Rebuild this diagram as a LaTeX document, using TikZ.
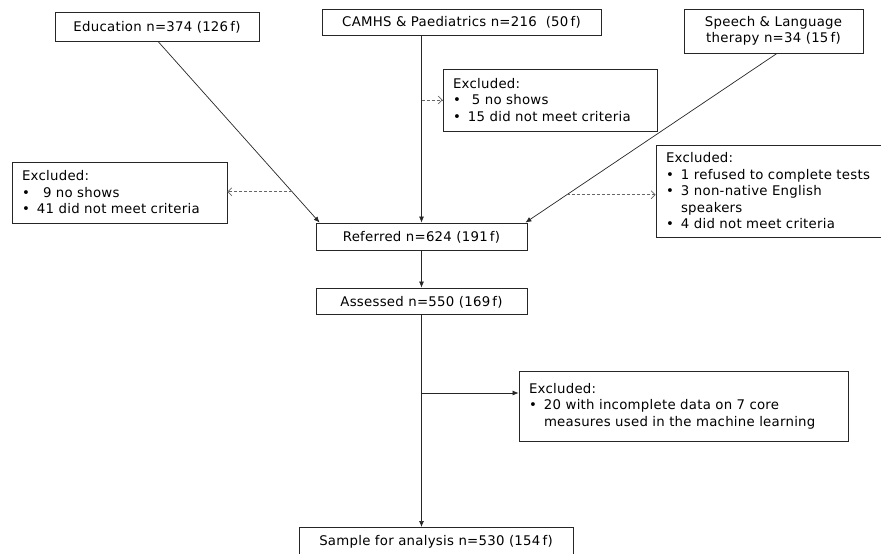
\documentclass[tikz,border=0pt]{standalone}
\usepackage{fontspec}
\setmainfont{DejaVu Sans}[LetterSpace=2]
\usetikzlibrary{arrows.meta,calc}
\newcommand{\myitem}[1]{\makebox[15pt][l]{\textbullet}#1}
\newcommand{\oneline}[1]{\raisebox{0pt}[12pt][2pt]{#1}}
\tikzset{
  box/.style={draw=black!85, line width=0.8pt, inner xsep=0pt, inner ysep=0pt,
    font=\fontsize{13.3}{16.5}\selectfont, align=center},
  lbox/.style={box, align=left},
  arr/.style={line width=0.7pt, draw=black!85, -{Latex[length=6pt,width=5pt]}},
  darr/.style={line width=0.7pt, draw=black!60, densely dashed,
    -{Straight Barb[length=4pt,width=8pt]}},
}
\begin{document}
\begin{tikzpicture}[x=1pt,y=-1pt]
\useasboundingbox (0,0) rectangle (881,554);
\clip (0,0) rectangle (881,554);
% main boxes
\node[box, minimum width=204pt, minimum height=29pt] (edu) at (157,26.5) {\oneline{Education n=374 (126\,f)}};
\node[box, minimum width=279pt, minimum height=26pt] (camhs) at (461.5,22) {\oneline{CAMHS \& Paediatrics n=216\ \ (50\,f)}};
\node[box, minimum width=179pt, minimum height=44pt] (slt) at (773.5,31) {Speech \& Language\\therapy n=34 (15\,f)};
\node[box, minimum width=211pt, minimum height=27pt] (ref) at (421.5,236.5) {\oneline{Referred n=624 (191\,f)}};
\node[box, minimum width=211pt, minimum height=26pt] (ass) at (421.5,301) {\oneline{Assessed n=550 (169\,f)}};
\node[box, minimum width=274pt, minimum height=30pt, anchor=north] (smp) at (436,527) {\raisebox{0pt}[10pt][4pt]{Sample for analysis n=530 (154\,f)}};
% exclusion boxes
\node[lbox, minimum width=215pt, minimum height=61pt, text width=195pt] (exl) at (119.5,192.5)
  {Excluded:\\\myitem{\hspace{6pt}9 no shows}\\\myitem{41 did not meet criteria}};
\node[lbox, minimum width=214pt, minimum height=62pt, text width=194pt] (exc) at (550,100)
  {Excluded:\\\myitem{\hspace{4pt}5 no shows}\\\myitem{15 did not meet criteria}};
\node[lbox, minimum width=234pt, minimum height=92pt, text width=214pt] (exr) at (773,191)
  {Excluded:\\\myitem{1 refused to complete tests}\\\myitem{3 non-native English}\\\hspace*{15pt}speakers\\\myitem{4 did not meet criteria}};
\node[lbox, minimum width=329pt, minimum height=70pt, text width=309pt] (exb) at (683.5,406)
  {Excluded:\\\myitem{20 with incomplete data on 7 core}\\\hspace*{15pt}measures used in the machine learning\\[3pt]};
% connector endpoints
\coordinate (eduS) at ([xshift=1pt]edu.south);
\coordinate (refL) at ([xshift=4pt]ref.north west);
\coordinate (sltS) at ([xshift=3.5pt]slt.south);
\coordinate (refR) at ([xshift=-2pt]ref.north east);
\coordinate (pL) at ($(eduS)!0.83!(refL)$);
\coordinate (pR) at ($(sltS)!0.835!(refR)$);
\coordinate (pC) at (ref.north |- exc.west);
\coordinate (pB) at (421.5,393);
% connectors
\draw[arr] (eduS) -- (refL);
\draw[arr] (camhs.south -| ref.north) -- (ref.north);
\draw[arr] (sltS) -- (refR);
\draw[darr] (pL) -- (pL -| exl.east);
\draw[darr] (pC) -- (exc.west);
\draw[darr] (pR) -- (pR -| exr.west);
\draw[arr] (ref.south) -- (ass.north);
\draw[arr] (ass.south) -- (smp.north -| ass.south);
\draw[arr] (pB) -- (pB -| exb.west);
\end{tikzpicture}
\end{document}
